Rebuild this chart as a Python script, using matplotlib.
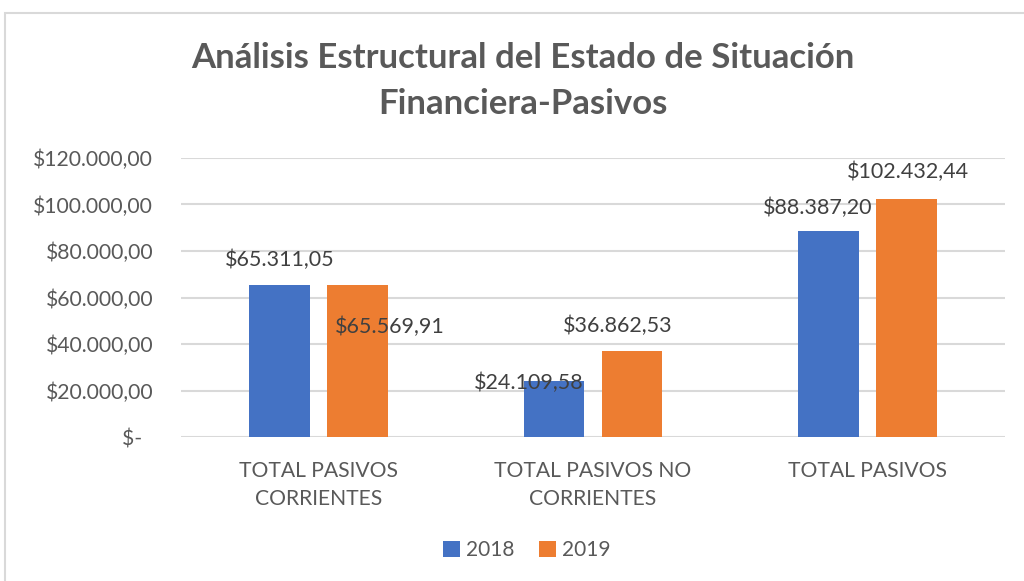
import matplotlib.pyplot as plt
import numpy as np
from matplotlib.patches import Rectangle

# data
categories = ["TOTAL PASIVOS\nCORRIENTES", "TOTAL PASIVOS NO\nCORRIENTES", "TOTAL PASIVOS"]
vals_2018 = [65311.05, 24109.58, 88387.20]
vals_2019 = [65569.91, 36862.53, 102432.44]
labels_2018 = ["$65.311,05", "$24.109,58", "$88.387,20"]
labels_2019 = ["$65.569,91", "$36.862,53", "$102.432,44"]
yticks = [0, 20000, 40000, 60000, 80000, 100000, 120000]
ytick_labels = ["$-  ", "$20.000,00", "$40.000,00", "$60.000,00", "$80.000,00", "$100.000,00", "$120.000,00"]

blue = "#4472C4"
orange = "#ED7D31"
grey = "#595959"
font = "Lato"

fig = plt.figure(figsize=(10.24, 5.81), dpi=100)
# chart border (light grey)
fig.patches.append(Rectangle((5/1024, -0.1), 1.1, 1.1 - 13/581, transform=fig.transFigure,
                             fill=False, edgecolor="#D9D9D9", linewidth=1.5))

ax = fig.add_axes([181/1024, 1 - 437/581, (1005 - 181)/1024, (437 - 158)/581])
x = np.arange(len(categories))
w = 0.22
off = 0.142
b1 = ax.bar(x - off, vals_2018, w, color=blue, label="2018", zorder=3)
b2 = ax.bar(x + off, vals_2019, w, color=orange, label="2019", zorder=3)

ax.set_xlim(-0.5, 2.5)
ax.set_ylim(0, 120000)
ax.set_yticks(yticks)
ax.set_yticklabels(ytick_labels, fontsize=15.2, color=grey, family=font)
ax.set_xticks(x)
ax.set_xticklabels(categories, fontsize=15.2, color=grey, family=font, linespacing=1.5)
ax.grid(axis="y", color="#D9D9D9", linewidth=1.5, zorder=0)
for s in ax.spines.values():
    s.set_visible(False)
ax.tick_params(axis="y", length=0, pad=20)
ax.tick_params(axis="x", length=0, pad=17)

# data labels, offsets in pixels from bar top centre (manually moved ones in the original)
offs_2018 = [(0, 25), (-25, -2), (-11, 24)]
offs_2019 = [(32, -42), (-14, 25), (1, 27)]
for bars, labs, offs in [(b1, labels_2018, offs_2018), (b2, labels_2019, offs_2019)]:
    for bar, lab, (dx, dy) in zip(bars, labs, offs):
        ax.annotate(lab, (bar.get_x() + bar.get_width() / 2, bar.get_height()),
                    xytext=(dx, dy), textcoords="offset pixels", ha="center", va="center",
                    fontsize=15.5, color="#404040", family=font, zorder=4)

fig.text(523/1024, 1 - 58/581, "Análisis Estructural del Estado de Situación",
         ha="center", va="center", fontsize=25, fontweight="bold", color=grey, family=font)
fig.text(523/1024, 1 - 104/581, "Financiera-Pasivos",
         ha="center", va="center", fontsize=25, fontweight="bold", color=grey, family=font)

fig.legend(handles=[b1, b2], loc="center", bbox_to_anchor=(527/1024, 1 - 550/581), ncol=2,
           frameon=False, prop={"family": font, "size": 15}, labelcolor=grey,
           handlelength=0.8, handleheight=0.8, handletextpad=0.3, columnspacing=1.2)

fig.savefig("out.png", dpi=100)
